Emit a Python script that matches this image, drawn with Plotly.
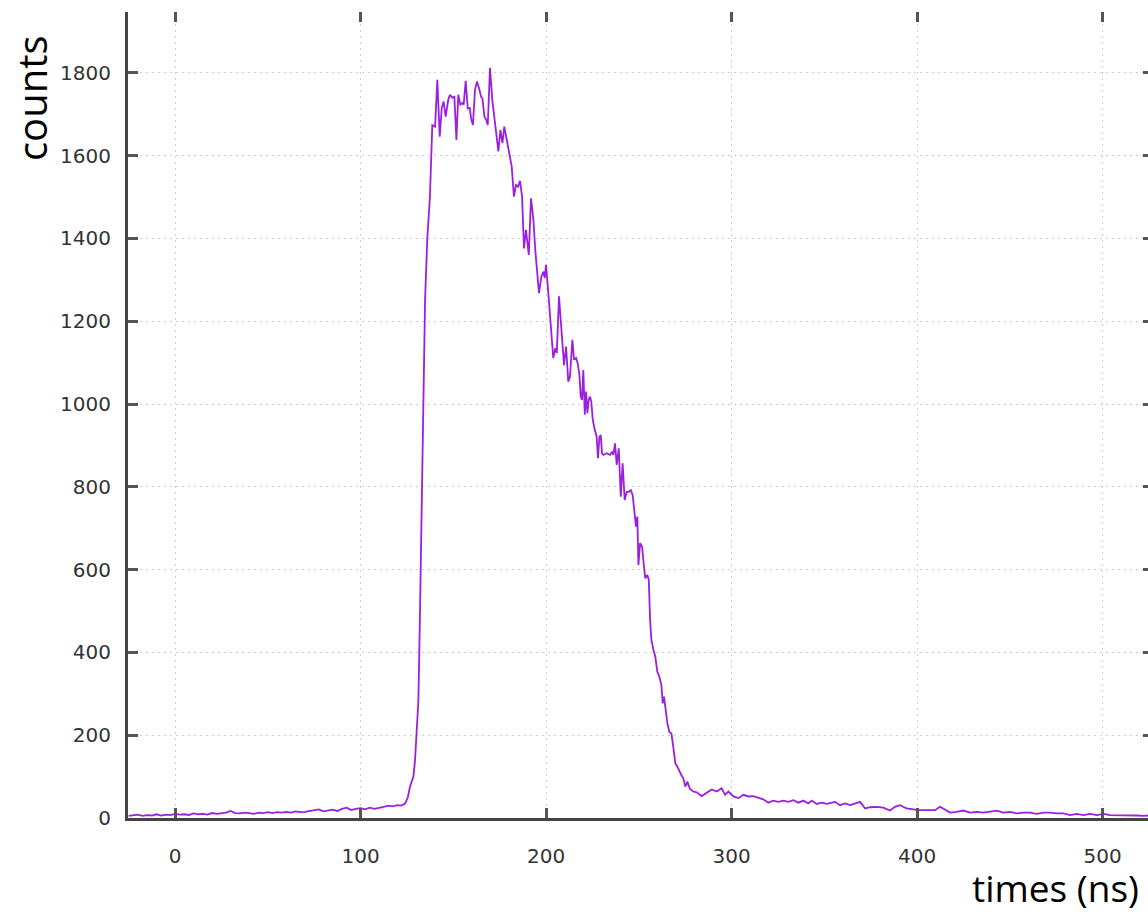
import plotly.graph_objects as go

# ---- data ----
time_ns = [
    -25, -22.5, -20, -17.5, -15, -12.5, -10, -7.5, -5, -2.5,
    0, 2.5, 5, 7.5, 10, 12.5, 15, 17.5, 20, 22.5,
    25, 27.5, 30, 32.5, 35, 37.5, 40, 42.5, 45, 47.5,
    50, 52.5, 55, 57.5, 60, 62.5, 65, 67.5, 70, 72.5,
    75, 77.5, 80, 82.5, 85, 87.5, 90, 92.5, 95, 97.5,
    100, 102.5, 105, 107.5, 110, 112.5, 115, 117.5, 120, 122,
    124, 125.5, 126.7, 127.6, 128.5, 129.4, 130.3, 131.2, 132, 133,
    134, 134.8, 136, 137.4, 138, 138.7, 140.2, 141.4, 142.7, 143.8,
    144.8, 145.9, 147.3, 148.2, 149.5, 150.6, 151.7, 152.7, 153.8, 154.9,
    155.6, 156.7, 157.8, 158.9, 159.6, 160.6, 161.7, 162.8, 163.9, 165,
    165.7, 166.8, 167.8, 168.6, 169.8, 171.1, 172.1, 173.2, 174.3, 175.4,
    176.5, 177.5, 178.6, 180.1, 181.5, 182.7, 183.8, 184.9, 186, 187.1,
    188.1, 189.2, 190.7, 191.9, 193.2, 194.2, 195.3, 196.2, 197.5, 198.6,
    199.3, 200, 201.1, 202.2, 203.2, 203.9, 205, 205.8, 207, 208.2,
    209.7, 210.8, 212, 212.9, 214.2, 215.1, 216.2, 217.1, 218, 218.7,
    219.4, 220.1, 220.9, 221.6, 222.3, 223, 223.7, 224.4, 225.2, 226.3,
    227.3, 228, 228.8, 229.5, 230.2, 230.9, 232.7, 234.5, 235.6, 236.3,
    237.2, 238.1, 239.2, 240.3, 241.3, 242.4, 243.5, 244.6, 245.7, 246.7,
    247.8, 248.5, 249.2, 249.8, 250.7, 251.8, 252.8, 253.5, 254.6, 255.4,
    256.1, 256.8, 257.9, 258.9, 260, 261.1, 262.2, 262.9, 263.6, 264.3,
    265.4, 266.5, 267.6, 268.6, 269.7, 270.8, 271.9, 272.9, 274, 275.1,
    276.2, 277.6, 279.4, 281.2, 283.9, 286.6, 289.3, 292, 294.7, 296.5,
    298.3, 301, 303.7, 306.4, 309.1, 311.8, 314.5, 317.1, 319.8, 322.5,
    325.2, 327.9, 330.6, 333.3, 336, 338.7, 341.4, 343.2, 345.9, 348.6,
    351.3, 354, 355.8, 358.5, 361.2, 363.9, 366.6, 369.3, 372, 374.7,
    378.3, 381.8, 385.4, 388.1, 390.8, 394.4, 398, 400.7, 403.4, 407,
    409.7, 412.4, 415.1, 417.8, 421.4, 425, 428.6, 432.2, 435.8, 439.4,
    443, 446.5, 450.1, 453.7, 457.3, 460.9, 464.5, 468.1, 471.7, 475.3,
    478.9, 482.5, 486.1, 489.7, 493.3, 496.9, 500.5, 504, 507.6, 511.2,
    514.8, 518.4, 522, 524.5,
]

counts = [
    5, 6, 8, 5, 7, 6, 9, 6, 8, 7,
    10, 8, 9, 7, 11, 9, 10, 8, 12, 10,
    11, 13, 17, 12, 11, 13, 12, 10, 13, 12,
    14, 12, 14, 13, 15, 13, 16, 14, 15, 17,
    18, 21, 16, 18, 20, 17, 22, 25, 19, 22,
    24, 21, 25, 22, 24, 27, 30, 28, 31, 30,
    35, 50, 76, 88, 100, 140, 205, 285, 480, 740,
    1000, 1252, 1400, 1500, 1580, 1674, 1670, 1783, 1646, 1715,
    1731, 1694, 1735, 1747, 1740, 1742, 1638, 1747, 1723, 1727,
    1723, 1781, 1714, 1715, 1690, 1674, 1759, 1779, 1763, 1742,
    1739, 1694, 1686, 1674, 1812, 1731, 1694, 1650, 1610, 1662,
    1630, 1670, 1642, 1602, 1574, 1501, 1529, 1525, 1539, 1501,
    1376, 1421, 1360, 1497, 1445, 1372, 1308, 1268, 1308, 1320,
    1304, 1336, 1276, 1219, 1163, 1111, 1135, 1123, 1260, 1180,
    1094, 1139, 1054, 1066, 1155, 1107, 1111, 1098, 1070, 1018,
    1010, 1082, 974, 1030, 978, 1010, 1018, 1006, 962, 937,
    921, 869, 921, 925, 881, 877, 881, 877, 885, 877,
    905, 853, 893, 776, 857, 768, 788, 788, 792, 780,
    736, 704, 728, 611, 664, 655, 607, 579, 587, 575,
    478, 430, 406, 390, 353, 341, 321, 277, 293, 265,
    229, 208, 204, 172, 132, 124, 112, 104, 96, 76,
    88, 70, 64, 62, 53, 60, 69, 64, 72, 56,
    64, 52, 48, 56, 52, 53, 48, 45, 37, 42,
    39, 42, 39, 43, 37, 42, 35, 42, 34, 37,
    34, 37, 39, 31, 35, 31, 35, 39, 23, 26,
    27, 25, 18, 27, 31, 23, 21, 19, 19, 18,
    19, 27, 19, 13, 15, 18, 13, 15, 13, 15,
    18, 13, 15, 11, 13, 13, 10, 13, 13, 11,
    11, 7, 10, 7, 10, 7, 10, 7, 7, 6,
    7, 6, 5, 6,
]

x_ticks = [0, 100, 200, 300, 400, 500]
y_ticks = [0, 200, 400, 600, 800, 1000, 1200, 1400, 1600, 1800]
x_title = "times (ns)"
y_title = "counts"

x_range = [-25.34, 524.5]
y_range = [0, 1947]

LINE_COLOR = "#9a1fe0"
AXIS_COLOR = "#444444"
GRID_COLOR = "#cfcfcf"
TICK_FONT = dict(family="DejaVu Sans", size=20, color="#333333")
TITLE_FONT = dict(family="Open Sans", size=40, color="#000000")
XTITLE_FONT = dict(family="Open Sans", size=37, color="#000000")

fig = go.Figure()
fig.add_trace(go.Scatter(
    x=time_ns, y=counts, mode="lines",
    line=dict(color=LINE_COLOR, width=1.8),
    showlegend=False, hoverinfo="x+y",
))
# invisible companion trace so that the mirrored (top / right) tick axes exist
fig.add_trace(go.Scatter(
    x=time_ns, y=counts, mode="lines", xaxis="x2", yaxis="y2",
    line=dict(color=LINE_COLOR, width=0), opacity=0,
    showlegend=False, hoverinfo="skip",
))

common_ticks = dict(ticks="inside", ticklen=10, tickwidth=3, tickcolor="#555555")

fig.update_layout(
    width=1148, height=916,
    margin=dict(l=128, r=0, t=12, b=98, pad=0),
    paper_bgcolor="white", plot_bgcolor="white",
    xaxis=dict(
        range=x_range, tickvals=x_ticks, ticktext=[str(v) for v in x_ticks],
        showline=True, linecolor=AXIS_COLOR, linewidth=3,
        showgrid=True, gridcolor=GRID_COLOR, gridwidth=1.2, griddash="2px,4px",
        zeroline=False, tickfont=TICK_FONT, ticklabelstandoff=18,
        **common_ticks,
    ),
    yaxis=dict(
        range=y_range, tickvals=y_ticks, ticktext=[str(v) for v in y_ticks],
        showline=True, linecolor=AXIS_COLOR, linewidth=3,
        showgrid=True, gridcolor=GRID_COLOR, gridwidth=1.2, griddash="2px,4px",
        zeroline=False, tickfont=TICK_FONT, ticklabelstandoff=10,
        **common_ticks,
    ),
    xaxis2=dict(
        range=x_range, tickvals=x_ticks, overlaying="x", side="top", anchor="y",
        showline=False, showgrid=False, zeroline=False, showticklabels=False,
        **common_ticks,
    ),
    yaxis2=dict(
        range=y_range, tickvals=y_ticks, overlaying="y", side="right", anchor="x",
        showline=False, showgrid=False, zeroline=False, showticklabels=False,
        ticks="inside", ticklen=5, tickwidth=3, tickcolor="#555555",
    ),
    annotations=[
        dict(text=y_title, xref="paper", yref="paper", x=-0.094, y=0.974,
             xanchor="center", yanchor="top", textangle=-90, showarrow=False,
             font=TITLE_FONT),
        dict(text=x_title, xref="paper", yref="paper", x=0.992, y=-0.119,
             xanchor="right", yanchor="bottom", showarrow=False,
             font=XTITLE_FONT, borderpad=0),
    ],
)

fig.write_html("out.html")
